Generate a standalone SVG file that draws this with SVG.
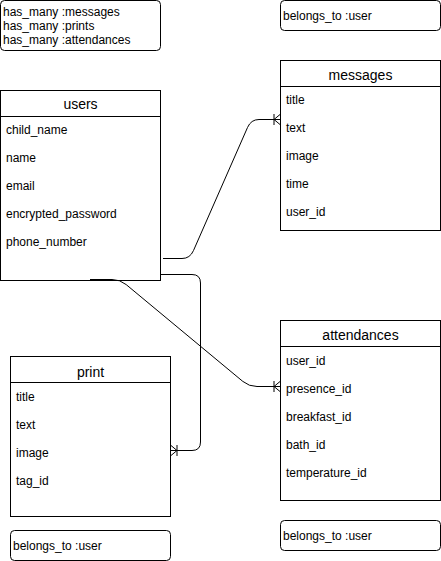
<svg xmlns="http://www.w3.org/2000/svg" width="441" height="561" viewBox="0 0 441 561">
<style>
.box{fill:#fff;stroke:#000;stroke-width:1}
.line{fill:none;stroke:#000;stroke-width:1}
.note{fill:#fff;stroke:#000;stroke-width:1}
text{font-family:"Liberation Sans",Arial,Helvetica,sans-serif;font-size:12px;fill:#000}
.title{font-size:14px;text-anchor:middle}
.conn{fill:none;stroke:#000;stroke-width:1;marker-end:url(#crow)}
</style>
<defs>
<marker id="crow" markerUnits="userSpaceOnUse" markerWidth="14" markerHeight="14" viewBox="-12 -7 14 14" refX="0" refY="0" orient="auto" overflow="visible">
<path d="M -6 0 L 0 -5 M -6 0 L 0 5 M -6 -5.5 L -6 5.5" fill="none" stroke="#000" stroke-width="1"/>
</marker>
</defs>
<rect width="441" height="561" fill="#fff"/>

<g id="note-users">
<rect class="note" x="0.5" y="0.5" width="160" height="50" rx="4"/>
<text x="3" y="16">has_many :messages</text>
<text x="3" y="30">has_many :prints</text>
<text x="3" y="44">has_many :attendances</text>
</g>

<g id="note-messages">
<rect class="note" x="280.5" y="0.5" width="160" height="30" rx="4"/>
<text x="283" y="20">belongs_to :user</text>
</g>

<g id="users">
<rect class="box" x="0.5" y="90.5" width="160" height="190"/>
<line class="line" x1="0.5" y1="116.5" x2="160.5" y2="116.5"/>
<text class="title" x="80.5" y="109">users</text>
<text x="6" y="134">child_name</text>
<text x="6" y="162">name</text>
<text x="6" y="190">email</text>
<text x="6" y="218">encrypted_password</text>
<text x="6" y="246">phone_number</text>
</g>

<g id="messages">
<rect class="box" x="280.5" y="60.5" width="160" height="170"/>
<line class="line" x1="280.5" y1="86.5" x2="440.5" y2="86.5"/>
<text class="title" x="360.5" y="80">messages</text>
<text x="286" y="104">title</text>
<text x="286" y="132">text</text>
<text x="286" y="160">image</text>
<text x="286" y="188">time</text>
<text x="286" y="216">user_id</text>
</g>

<g id="attendances">
<rect class="box" x="280.5" y="320.5" width="160" height="180"/>
<line class="line" x1="280.5" y1="346.5" x2="440.5" y2="346.5"/>
<text class="title" x="360.5" y="340">attendances</text>
<text x="286" y="365">user_id</text>
<text x="286" y="393">presence_id</text>
<text x="286" y="421">breakfast_id</text>
<text x="286" y="449">bath_id</text>
<text x="286" y="477">temperature_id</text>
</g>

<g id="print">
<rect class="box" x="10.5" y="356.5" width="160" height="160"/>
<line class="line" x1="10.5" y1="382.5" x2="170.5" y2="382.5"/>
<text class="title" x="90.5" y="377">print</text>
<text x="16" y="401">title</text>
<text x="16" y="429">text</text>
<text x="16" y="457">image</text>
<text x="16" y="485">tag_id</text>
</g>

<g id="note-print">
<rect class="note" x="10.5" y="530.5" width="160" height="30" rx="4"/>
<text x="13" y="550">belongs_to :user</text>
</g>

<g id="note-attendances">
<rect class="note" x="280.5" y="520.5" width="160" height="30" rx="4"/>
<text x="283" y="540">belongs_to :user</text>
</g>

<g id="connectors">
<path class="conn" d="M 163 258.5 L 182 258.5 Q 190 258.5 193.5 250.5 L 247.5 127.5 Q 251 119.5 259 119.5 L 280 119.5"/>
<path class="conn" d="M 161 274.5 L 192 274.5 Q 200.5 274.5 200.5 283 L 200.5 442 Q 200.5 450.5 192 450.5 L 171 450.5"/>
<path class="conn" d="M 90 279.5 L 112 279.5 Q 120 279.5 126.2 284.6 L 242.8 381.4 Q 249 386.5 257 386.5 L 280 386.5"/>
</g>
</svg>
